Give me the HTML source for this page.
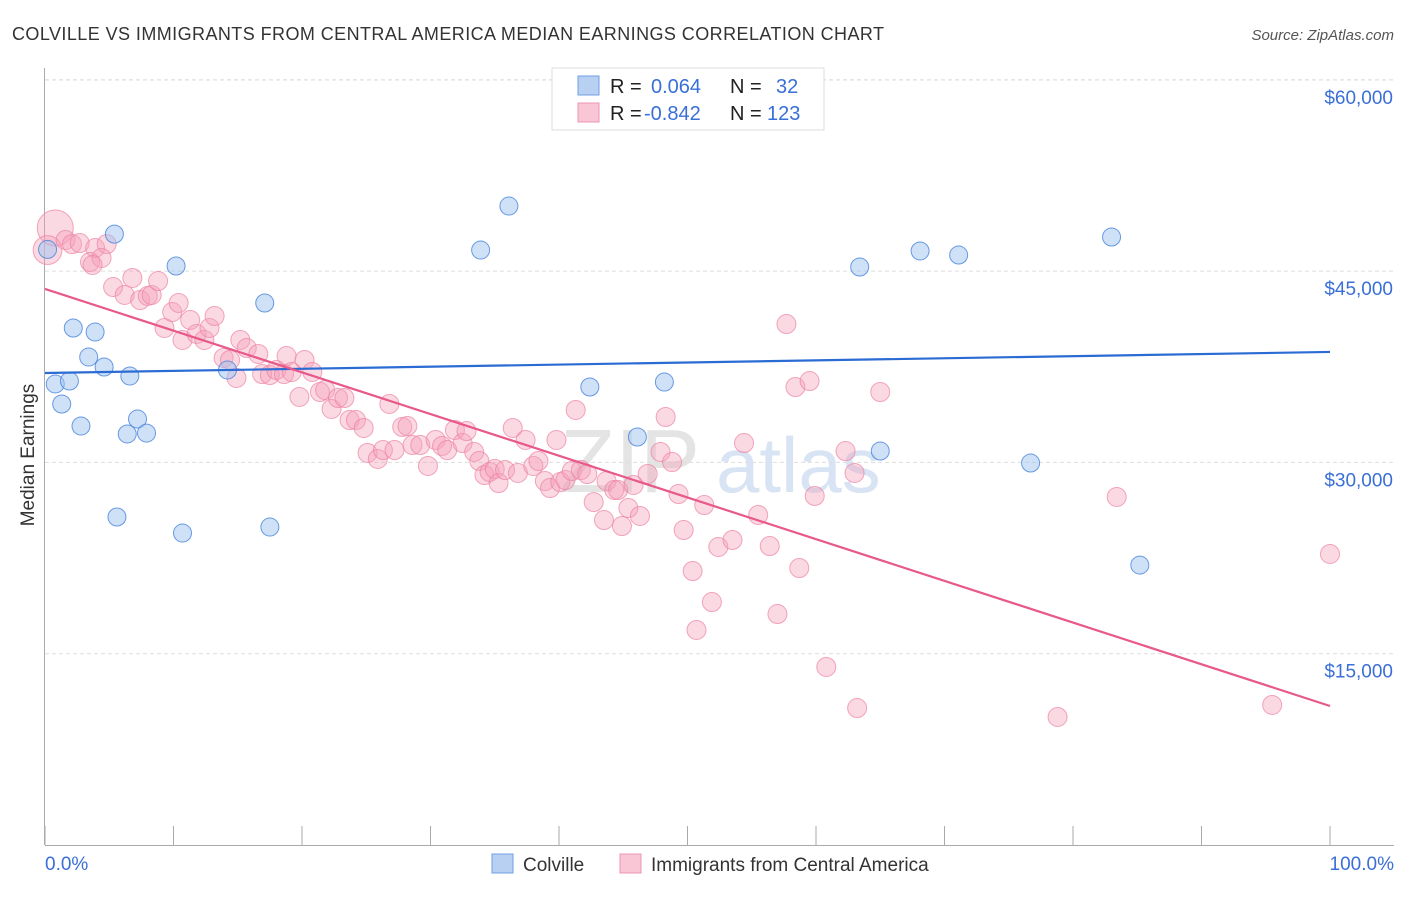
<!DOCTYPE html>
<html><head><meta charset="utf-8"><style>
body{margin:0;background:#fff;font-family:"Liberation Sans",sans-serif;}
svg text{font-family:"Liberation Sans",sans-serif;}
</style></head><body>
<svg id="chart" width="1406" height="892" viewBox="0 0 1406 892" xmlns="http://www.w3.org/2000/svg">
<text x="12" y="40" font-size="18" fill="#333" textLength="872">COLVILLE VS IMMIGRANTS FROM CENTRAL AMERICA MEDIAN EARNINGS CORRELATION CHART</text>
<text x="1394" y="40" font-size="15" fill="#555" text-anchor="end" font-style="italic">Source: ZipAtlas.com</text>
<g id="wm">
<text x="560" y="492" font-size="90" fill="#e4e4e4" font-family="Liberation Serif">ZIP</text>
<text x="716" y="492" font-size="78" fill="#d8e4f4">atlas</text>
</g>
<g id="grid"></g><g id="pts"></g><g id="lines"></g>
<text transform="translate(34,455) rotate(-90)" font-size="19" fill="#333" text-anchor="middle">Median Earnings</text>
<text x="45" y="870" font-size="19" fill="#3a6fd8">0.0%</text>
<text x="1394" y="870" font-size="19" fill="#3a6fd8" text-anchor="end">100.0%</text>
<g>
<rect x="552" y="68" width="272" height="62" fill="#fff" stroke="#ddd"/>
<rect x="578" y="76" width="21" height="19" fill="#b8d1f3" stroke="#6f9fe0"/>
<rect x="578" y="103" width="21" height="19" fill="#f8c6d4" stroke="#ec95b0"/>
<text x="610" y="93" font-size="20" fill="#222">R =</text><text x="651" y="93" font-size="20" fill="#3a6fd8">0.064</text>
<text x="730" y="93" font-size="20" fill="#222">N =</text><text x="776" y="93" font-size="20" fill="#3a6fd8">32</text>
<text x="610" y="120" font-size="20" fill="#222">R =</text><text x="644" y="120" font-size="20" fill="#3a6fd8">-0.842</text>
<text x="730" y="120" font-size="20" fill="#222">N =</text><text x="767" y="120" font-size="20" fill="#3a6fd8">123</text>
</g>
<g>
<rect x="492" y="854" width="21" height="19" fill="#b8d1f3" stroke="#6f9fe0"/>
<text x="523" y="871" font-size="19" fill="#333">Colville</text>
<rect x="620" y="854" width="21" height="19" fill="#f8c6d4" stroke="#ec95b0"/>
<text x="651" y="871" font-size="19" fill="#333">Immigrants from Central America</text>
</g>
</svg>
<script>
const yTicks=[15000,30000,45000,60000];
const yTickLabels=["$15,000","$30,000","$45,000","$60,000"];
const xTicks=[0,10,20,30,40,50,60,70,80,90,100];
const blueX=[0.2,5.4,10.2,36.1,33.9,17.1,2.2,3.9,3.4,4.6,6.6,0.8,1.9,1.3,2.8,7.2,6.4,7.9,14.2,42.4,48.2,46.1,5.6,10.7,17.5,63.4,68.1,71.1,83.0,65.0,76.7,85.2];
const blueY=[46700,47900,45400,50100,46650,42500,40540,40220,38260,37480,36770,36150,36380,34580,32850,33400,32230,32300,37250,35910,36300,31990,25720,24460,24930,45320,46580,46260,47670,30890,29950,21950];
const pinkX=[0.8,0.2,1.6,2.1,2.7,3.9,4.8,3.5,4.4,3.7,5.3,6.2,6.8,7.4,8.0,8.3,8.8,9.3,9.9,10.4,10.7,11.3,11.8,12.4,12.8,13.2,13.9,14.4,14.9,15.2,15.7,16.6,16.9,17.5,18.0,18.6,18.8,19.2,19.8,20.2,20.8,21.4,21.8,22.3,22.8,23.3,23.7,24.2,24.8,25.1,25.9,26.3,26.8,27.2,27.8,28.2,28.6,29.2,29.8,30.4,30.9,31.3,31.9,32.5,32.8,33.4,33.8,34.2,34.6,35.0,35.3,35.8,36.4,36.8,37.4,38.0,38.4,38.9,39.3,39.8,40.1,40.5,41.0,41.3,41.7,42.2,42.7,43.5,43.7,44.3,44.6,44.9,45.4,45.8,46.3,46.9,47.9,48.3,48.8,49.3,49.7,50.4,50.7,51.3,51.9,52.4,53.5,54.4,55.5,56.4,57.0,57.7,58.4,58.7,59.5,59.9,60.8,62.3,63.0,63.2,65.0,78.8,83.4,95.5,100];
const pinkY=[48380,46650,47440,47120,47200,46810,47120,45710,46030,45480,43750,43130,44460,42730,43050,43130,44220,40540,41790,42500,39600,41170,40070,39600,40540,41480,38190,38030,36620,39600,38970,38500,36930,36850,37250,36930,38340,37090,35130,38030,37090,35520,35680,34190,35050,35050,33320,33320,32700,30740,30270,30970,34580,30970,32780,32850,31360,31360,29720,31760,31290,30970,32540,31520,32460,30820,30110,29010,29250,29480,28380,29400,32700,29170,31760,29720,30110,28540,27990,31760,28460,28620,29330,34110,29400,29090,26890,25480,28540,27840,27840,25010,26420,28230,25800,29090,30820,33560,30030,27520,24700,21480,16860,26660,19050,23370,23920,31520,25880,23440,18110,40850,35910,21720,36380,27370,13960,30890,29170,10740,35520,10040,27290,10980,22820];
const pinkSize=[2,1.6];
const blueTrend=[37010,38660];
const pinkTrend=[43600,10900];
const NS="http://www.w3.org/2000/svg";
const xs=p=>45+p*12.85;
const ys=v=>845-v/15000*191.3;
function mk(t,a,parent){const e=document.createElementNS(NS,t);for(const k in a)e.setAttribute(k,a[k]);document.getElementById(parent).appendChild(e);return e;}
yTicks.forEach((v,i)=>{
 const l=mk('line',{x1:45,x2:1394,y1:ys(v),y2:ys(v),stroke:'#ddd','stroke-dasharray':'4,3'},'grid');
 
 
 const t=mk('text',{x:1393,y:ys(v)+24,'font-size':19,fill:'#3a6fd8','text-anchor':'end'},'grid');
 t.textContent=yTickLabels[i];
 
 
});
const topLine=mk('line',{x1:45,x2:1394,y1:80,y2:80,stroke:'#ddd','stroke-dasharray':'4,3'},'grid');


const yAxisLine=mk('line',{x1:44.5,x2:44.5,y1:68,y2:845,stroke:'#aaa'},'grid');


const xAxisLine=mk('line',{x1:45,x2:1394,y1:845.5,y2:845.5,stroke:'#aaa'},'grid');


xTicks.forEach(p=>{
 const t=mk('line',{x1:xs(p),x2:xs(p),y1:826,y2:845,stroke:'#aaa'},'grid');
 
 
});
pinkX.forEach((p,i)=>{
 const r=i<pinkSize.length?9*pinkSize[i]:9.5;
 const c=mk('circle',{cx:xs(p),cy:ys(pinkY[i]),r:r,fill:'rgba(244,160,185,0.4)',stroke:'rgba(236,130,162,0.7)','stroke-width':1},'pts');
 
 
});
blueX.forEach((p,i)=>{
 const c=mk('circle',{cx:xs(p),cy:ys(blueY[i]),r:9,fill:'rgba(160,195,240,0.5)',stroke:'rgba(70,130,220,0.8)','stroke-width':1},'pts');
 
 
});
const blueLine=mk('line',{x1:xs(0),x2:xs(100),y1:ys(blueTrend[0]),y2:ys(blueTrend[1]),stroke:'#2a6bd4','stroke-width':2.2},'lines');


const pinkLine=mk('line',{x1:xs(0),x2:xs(100),y1:ys(pinkTrend[0]),y2:ys(pinkTrend[1]),stroke:'#e8588a','stroke-width':2.2},'lines');


</script>
</body></html>
